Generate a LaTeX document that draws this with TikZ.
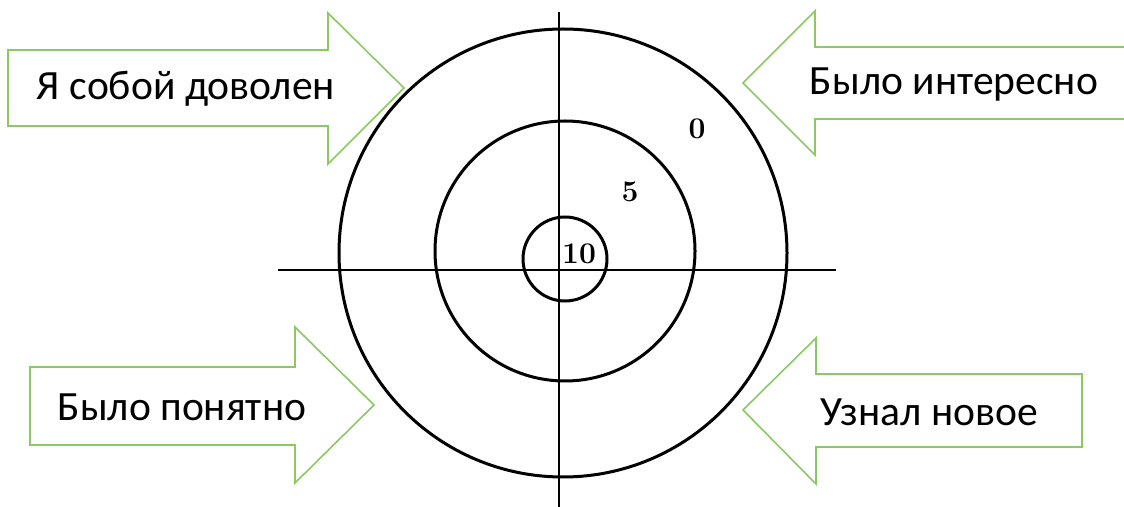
\documentclass[tikz,border=0pt]{standalone}
\usepackage{fontspec}
\newfontfamily\labelfont{Carlito}
\usepackage{tikz}
\definecolor{arrowgreen}{RGB}{140,200,100}

\begin{document}
\begin{tikzpicture}[x=0.5pt, y=-0.5pt,
  ring/.style={line width=1.5pt, black},
  axis/.style={line width=1.2pt, black},
  bigarrow/.style={draw=arrowgreen, line width=0.8pt, fill=white},
  answer/.style={font=\labelfont\fontsize{20.8}{24}\selectfont},
  score/.style={font=\fontsize{15}{15}\selectfont\bfseries}]
\useasboundingbox (0,0) rectangle (1124,507);

% Axes
\coordinate (top) at (559,12);
\coordinate (bottom) at (559,507);
\coordinate (left) at (278,270);
\coordinate (right) at (836,270);
\draw[axis] (top) -- (bottom);
\draw[axis] (left) -- (right);

% Target rings
\draw[ring] (563,253) circle (224);
\draw[ring] (565,251) circle (130);
\draw[ring] (565,259) circle (42);

% Scores
\node[score] (s0) at (697,129) {0};
\node[score] (s5) at (630,192) {5};
\node[score] (s10) at (579,254) {10};

% Arrows pointing right
\draw[bigarrow] (8,50) -- (328,50) -- (328,13) -- (404,88) -- (328,164) -- (328,126) -- (8,126) -- cycle;
\node[answer] (happy) at (186,89) {Я собой доволен};

\draw[bigarrow] (30,367) -- (295,367) -- (295,327) -- (374,405) -- (295,483) -- (295,445) -- (30,445) -- cycle;
\node[answer] (clear) at (182,407) {Было понятно};

% Arrows pointing left
\draw[bigarrow] (1130,47) -- (815,47) -- (815,11) -- (743,83) -- (815,155) -- (815,119) -- (1130,119);
\node[answer] (fun) at (954,85) {Было интересно};

\draw[bigarrow] (1082,374) -- (816,374) -- (816,338) -- (743,410) -- (816,484) -- (816,447) -- (1082,447) -- cycle;
\node[answer] (new) at (929,412) {Узнал новое};

\end{tikzpicture}
\end{document}
